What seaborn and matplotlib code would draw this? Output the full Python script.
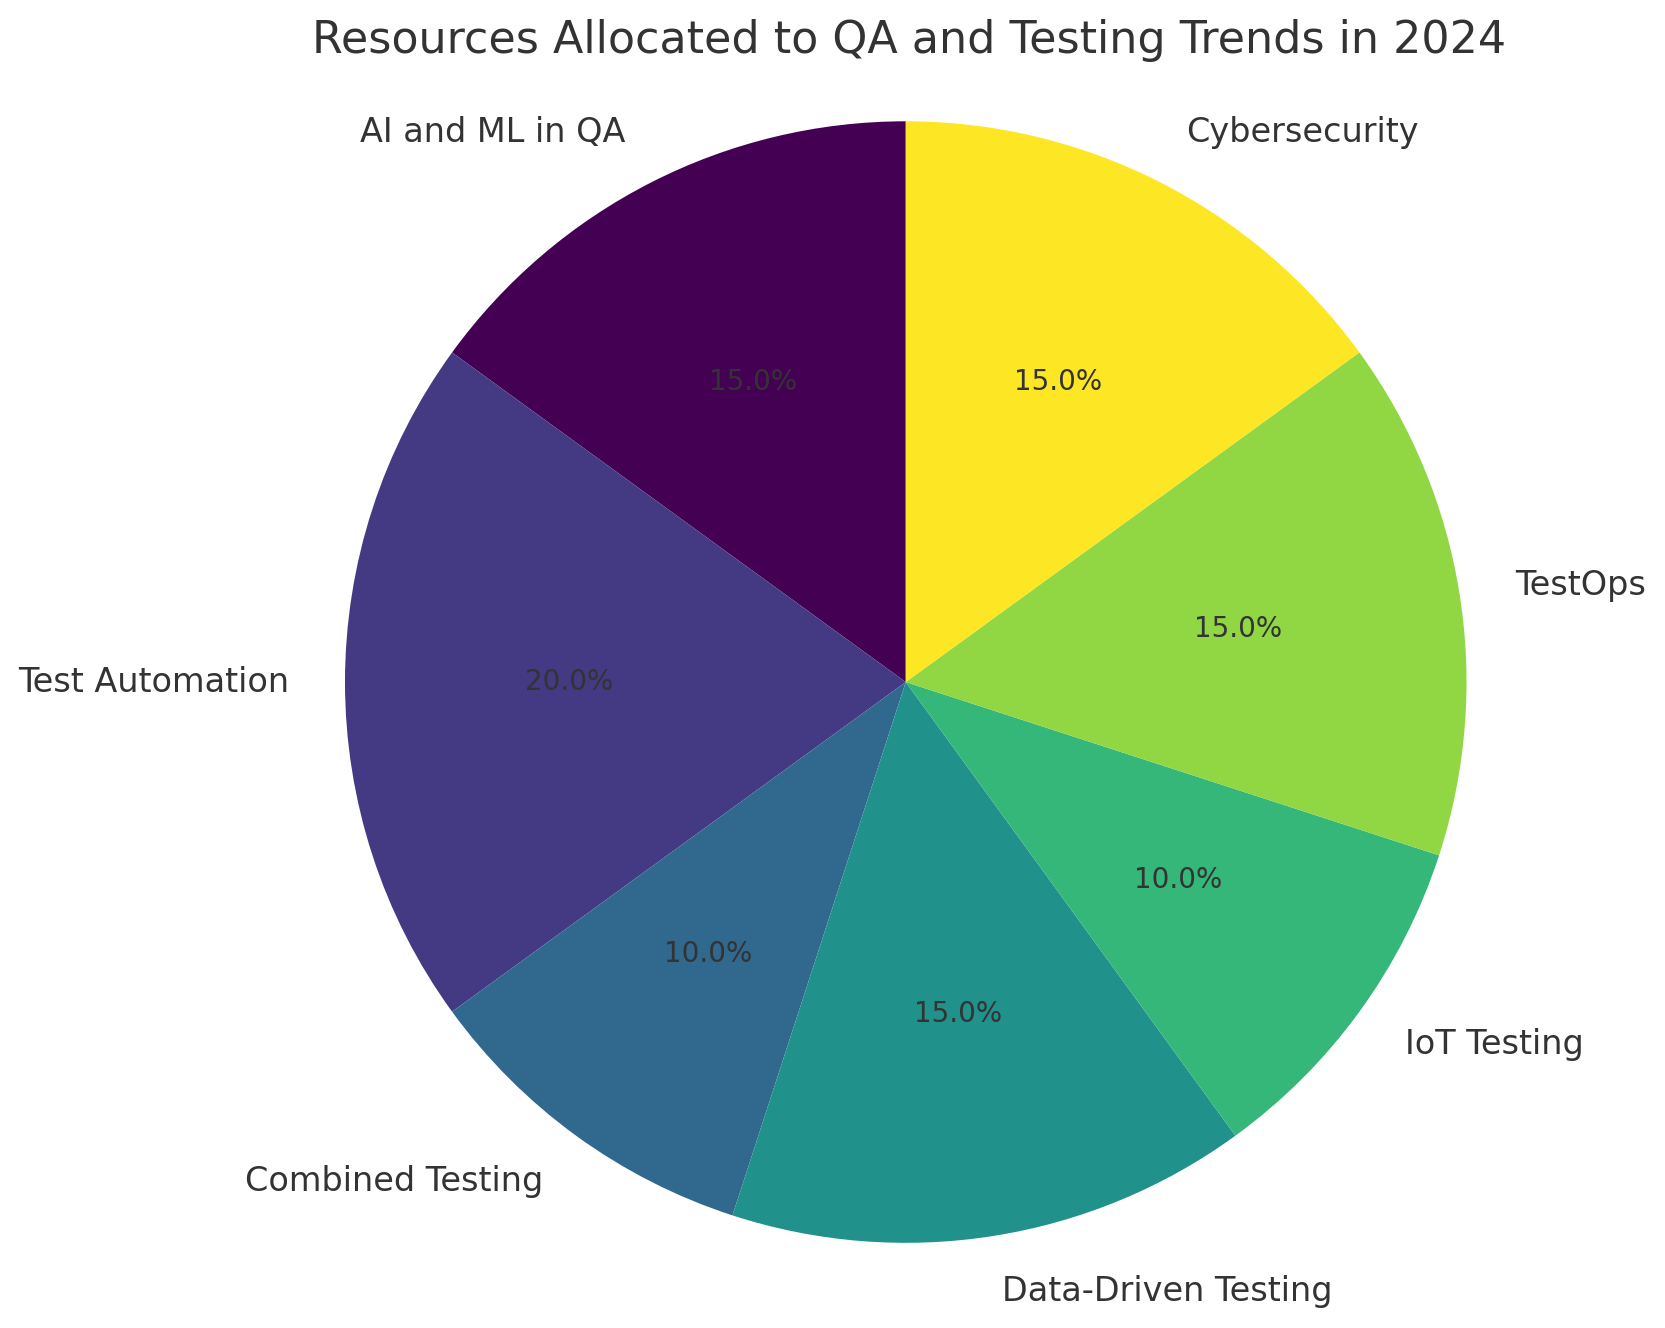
import matplotlib
matplotlib.use("Agg")
import matplotlib.pyplot as plt
import seaborn as sns
import numpy as np

categories = ["AI and ML in QA", "Test Automation", "Combined Testing",
              "Data-Driven Testing", "IoT Testing", "TestOps", "Cybersecurity"]
shares = [15, 20, 10, 15, 10, 15, 15]

sns.set_theme(style="white")
plt.rcParams["font.family"] = ["DejaVu Sans"]
plt.rcParams["text.color"] = "#333333"

# viridis spread evenly from dark purple to yellow
colors = plt.cm.viridis(np.linspace(0, 1, len(categories)))

fig = plt.figure(figsize=(10, 7.976), dpi=166.5)
ax = fig.add_axes([0.123, -0.0416, 0.842, 1.056])
wedges, texts, autotexts = ax.pie(
    shares, labels=categories, colors=colors, autopct="%1.1f%%",
    startangle=90, textprops={"fontsize": 14.5, "color": "#333333"},
    wedgeprops={"edgecolor": "none", "linewidth": 0},
)
for t in autotexts:
    t.set_fontsize(12)
ax.set_aspect("equal")
# title centred over the pie rather than the figure
fig.suptitle("Resources Allocated to QA and Testing Trends in 2024",
             fontsize=19.2, x=0.546, y=0.9693, va="center")
plt.savefig("out.png", dpi=166.5)
